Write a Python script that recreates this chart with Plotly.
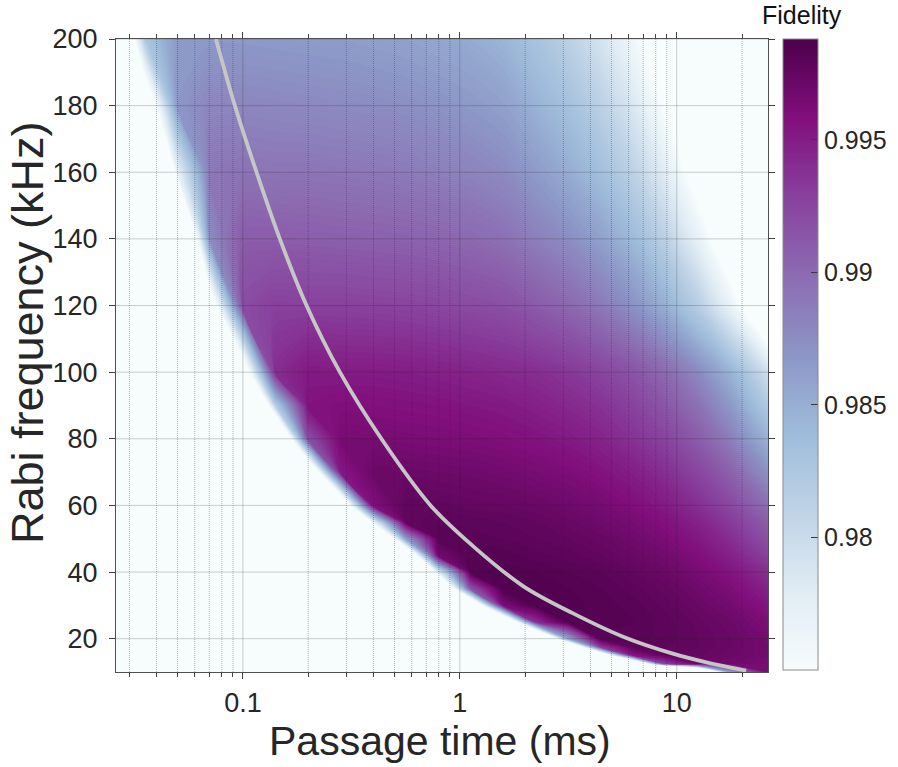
import plotly.graph_objects as go

# ---------------- data ----------------
passage_time_ms = [0.0251, 0.0355, 0.0501, 0.0708, 0.1, 0.1413, 0.1995, 0.2818,
                   0.3981, 0.5623, 0.7943, 1.122, 1.585, 2.239, 3.162, 4.467,
                   6.310, 8.913, 12.59, 17.78, 26.3]
rabi_khz = [10, 12.5, 15, 17.5, 20, 25, 30, 35, 40, 45, 50, 55, 60, 70, 80, 90,
            100, 120, 140, 160, 180, 200]

# fidelity rows (one per Rabi frequency, one value per passage time);
# values left of the visible edge are below the colour range (shown white)
fid_010 = [0.85, 0.85, 0.85, 0.85, 0.85, 0.85, 0.85, 0.85, 0.85, 0.85, 0.85, 0.85, 0.85, 0.85, 0.85, 0.854, 0.887, 0.920, 0.953, 0.986, 0.9962]
fid_012 = [0.85, 0.85, 0.85, 0.85, 0.85, 0.85, 0.85, 0.85, 0.85, 0.85, 0.85, 0.85, 0.85, 0.8606, 0.8936, 0.9266, 0.9596, 0.9926, 0.9970, 0.9968, 0.9964]
fid_015 = [0.85, 0.85, 0.85, 0.85, 0.85, 0.85, 0.85, 0.85, 0.85, 0.85, 0.85, 0.85, 0.874, 0.9043, 0.9346, 0.9649, 0.9952, 0.9976, 0.9974, 0.9971, 0.9966]
fid_017 = [0.85, 0.85, 0.85, 0.85, 0.85, 0.85, 0.85, 0.85, 0.85, 0.85, 0.85, 0.861, 0.894, 0.927, 0.960, 0.993, 0.9979, 0.9978, 0.9976, 0.9972, 0.9966]
fid_020 = [0.85, 0.85, 0.85, 0.85, 0.85, 0.85, 0.85, 0.85, 0.85, 0.85, 0.8536, 0.8866, 0.9196, 0.9526, 0.9856, 0.9981, 0.9981, 0.9979, 0.9976, 0.9972, 0.9965]
fid_025 = [0.85, 0.85, 0.85, 0.85, 0.85, 0.85, 0.85, 0.85, 0.85, 0.8617, 0.8947, 0.9277, 0.9607, 0.9937, 0.9985, 0.9983, 0.9982, 0.9979, 0.9975, 0.9970, 0.9961]
fid_030 = [0.85, 0.85, 0.85, 0.85, 0.85, 0.85, 0.85, 0.85, 0.8641, 0.8971, 0.9301, 0.9631, 0.9961, 0.9986, 0.9985, 0.9983, 0.9981, 0.9977, 0.9972, 0.9966, 0.9954]
fid_035 = [0.85, 0.85, 0.85, 0.85, 0.85, 0.85, 0.85, 0.8593, 0.8923, 0.9253, 0.9583, 0.9913, 0.9986, 0.9985, 0.9984, 0.9982, 0.9979, 0.9975, 0.9969, 0.9961, 0.9947]
fid_040 = [0.85, 0.85, 0.85, 0.85, 0.85, 0.85, 0.85, 0.8786, 0.9116, 0.9446, 0.9776, 0.9983, 0.9985, 0.9984, 0.9982, 0.9980, 0.9976, 0.9971, 0.9964, 0.9955, 0.9939]
fid_045 = [0.85, 0.85, 0.85, 0.85, 0.85, 0.85, 0.8646, 0.8976, 0.9306, 0.9636, 0.9966, 0.9984, 0.9983, 0.9981, 0.9979, 0.9976, 0.9972, 0.9967, 0.9959, 0.9947, 0.9928]
fid_050 = [0.85, 0.85, 0.85, 0.85, 0.85, 0.854, 0.887, 0.920, 0.953, 0.986, 0.9981, 0.9981, 0.9980, 0.9978, 0.9976, 0.9973, 0.9968, 0.9962, 0.9953, 0.9940, 0.9918]
fid_055 = [0.85, 0.85, 0.85, 0.85, 0.85, 0.8775, 0.9105, 0.9435, 0.9765, 0.9976, 0.9980, 0.9979, 0.9978, 0.9976, 0.9973, 0.9969, 0.9964, 0.9957, 0.9947, 0.9932, 0.9908]
fid_060 = [0.85, 0.85, 0.85, 0.85, 0.8746, 0.9049, 0.9352, 0.9655, 0.9958, 0.9977, 0.9977, 0.9975, 0.9974, 0.9972, 0.9969, 0.9965, 0.9959, 0.9951, 0.9939, 0.9923, 0.9896]
fid_070 = [0.85, 0.85, 0.85, 0.8752, 0.9052, 0.9352, 0.9652, 0.9952, 0.9971, 0.9971, 0.9970, 0.9969, 0.9967, 0.9964, 0.9961, 0.9956, 0.9949, 0.9939, 0.9925, 0.9905, 0.9872]
fid_080 = [0.85, 0.85, 0.8597, 0.8927, 0.9257, 0.9587, 0.9917, 0.9964, 0.9964, 0.9963, 0.9962, 0.9961, 0.9959, 0.9956, 0.9952, 0.9946, 0.9937, 0.9926, 0.9909, 0.9885, 0.9847]
fid_090 = [0.85, 0.85, 0.8826, 0.9156, 0.9486, 0.9816, 0.9956, 0.9959, 0.9958, 0.9957, 0.9956, 0.9954, 0.9952, 0.9948, 0.9943, 0.9937, 0.9927, 0.9913, 0.9894, 0.9866, 0.9822]
fid_100 = [0.8755, 0.8992, 0.9229, 0.9465, 0.9703, 0.9940, 0.9952, 0.9951, 0.9951, 0.9950, 0.9948, 0.9946, 0.9943, 0.9940, 0.9934, 0.9926, 0.9915, 0.9899, 0.9877, 0.9846, 0.9795]
fid_120 = [0.907, 0.9282, 0.9495, 0.9708, 0.9920, 0.9929, 0.9928, 0.9928, 0.9927, 0.9926, 0.9924, 0.9921, 0.9918, 0.9910, 0.9901, 0.9889, 0.9872, 0.9849, 0.9816, 0.9768, 0.9691]
fid_140 = [0.8931, 0.9246, 0.9561, 0.9876, 0.9909, 0.9909, 0.9908, 0.9907, 0.9906, 0.9905, 0.9903, 0.9900, 0.9895, 0.9885, 0.9875, 0.9861, 0.9840, 0.9812, 0.9771, 0.9713, 0.9619]
fid_160 = [0.9112, 0.9442, 0.9772, 0.9891, 0.9893, 0.9892, 0.9892, 0.9891, 0.9890, 0.9888, 0.9885, 0.9882, 0.9877, 0.9865, 0.9852, 0.9835, 0.9811, 0.9778, 0.9730, 0.9661, 0.9550]
fid_180 = [0.9514, 0.9691, 0.9868, 0.9880, 0.9880, 0.9879, 0.9878, 0.9877, 0.9876, 0.9874, 0.9871, 0.9867, 0.9861, 0.9847, 0.9833, 0.9813, 0.9785, 0.9745, 0.9689, 0.9611, 0.9481]
fid_200 = [0.9598, 0.9826, 0.9867, 0.9867, 0.9867, 0.9866, 0.9865, 0.9864, 0.9862, 0.9860, 0.9856, 0.9852, 0.9845, 0.9830, 0.9813, 0.9790, 0.9759, 0.9713, 0.9649, 0.9558, 0.9411]

# optimal-passage curve (grey line)
curve_time_ms = [0.0751, 0.0918, 0.1156, 0.148, 0.1965, 0.28, 0.435, 0.733, 1.15,
                 1.957, 3.33, 5.66, 9.6, 13.7, 20.9]
curve_rabi_khz = [200, 180, 160, 140, 120, 100, 80, 60, 47.8, 35.8, 27.6, 20.6,
                  15.5, 12.9, 10.4]

# axes / ticks
x_major = [0.1, 1, 10]
x_major_text = ["0.1", "1", "10"]
x_minor = [0.03, 0.04, 0.05, 0.06, 0.07, 0.08, 0.09, 0.2, 0.3, 0.4, 0.5, 0.6,
           0.7, 0.8, 0.9, 2, 3, 4, 5, 6, 7, 8, 9, 20]
y_major = [20, 40, 60, 80, 100, 120, 140, 160, 180, 200]
cbar_ticks = [0.98, 0.985, 0.99, 0.995]
cbar_text = ["0.98", "0.985", "0.99", "0.995"]
z_min, z_max = 0.975, 0.9988       # colour-bar range
level_step = 0.0002                 # fine filled levels -> smooth shading
x_lo, x_hi = 0.026, 26.35
y_lo, y_hi = 10, 200

fidelity = [fid_010, fid_012, fid_015, fid_017, fid_020, fid_025, fid_030,
            fid_035, fid_040, fid_045, fid_050, fid_055, fid_060, fid_070,
            fid_080, fid_090, fid_100, fid_120, fid_140, fid_160, fid_180,
            fid_200]

BUPU = ['rgb(247,252,253)', 'rgb(224,236,244)', 'rgb(191,211,230)',
        'rgb(158,188,218)', 'rgb(140,150,198)', 'rgb(140,107,177)',
        'rgb(136,65,157)', 'rgb(129,15,124)', 'rgb(77,0,75)']
bar_scale = [[i / (len(BUPU) - 1), c] for i, c in enumerate(BUPU)]

FONT = "Liberation Sans, Arial, Helvetica, sans-serif"
TXT = "#262626"

fig = go.Figure()

# filled map (many thin levels; library interpolates the sharp edge smoothly)
fig.add_trace(go.Contour(
    x=passage_time_ms, y=rabi_khz, z=fidelity,
    zmin=z_min, zmax=z_max, zauto=False,
    autocontour=False,
    contours=dict(coloring="fill", showlines=False,
                  start=z_min, end=z_max, size=level_step),
    line=dict(width=0, smoothing=0.7),
    colorscale=bar_scale, showscale=False,
    hoverinfo="skip",
))

# grid lines drawn over the map
gx, gy = [], []
for v in x_major:
    gx += [v, v, None]
    gy += [y_lo, y_hi, None]
for v in y_major:
    gx += [x_lo, x_hi, None]
    gy += [v, v, None]
fig.add_trace(go.Scatter(x=gx, y=gy, mode="lines", hoverinfo="skip",
                         showlegend=False,
                         line=dict(color="rgba(38,38,38,0.22)", width=1)))
mx, my = [], []
for v in x_minor:
    mx += [v, v, None]
    my += [y_lo, y_hi, None]
fig.add_trace(go.Scatter(x=mx, y=my, mode="lines", hoverinfo="skip",
                         showlegend=False,
                         line=dict(color="rgba(38,38,38,0.34)", width=1,
                                   dash="1px,1px")))

fig.add_trace(go.Scatter(x=curve_time_ms, y=curve_rabi_khz, mode="lines",
                         hoverinfo="skip", showlegend=False,
                         line=dict(color="#c6c6c6", width=3.8, shape="spline")))

# colour bar (invisible carrier marker on the curve's first point)
fig.add_trace(go.Scatter(
    x=curve_time_ms[:1], y=curve_rabi_khz[:1], mode="markers",
    hoverinfo="skip", showlegend=False,
    marker=dict(size=1, opacity=0, color=[z_max], cmin=z_min, cmax=z_max,
                colorscale=bar_scale, showscale=True,
                colorbar=dict(
                    thickness=35, thicknessmode="pixels",
                    len=0.997, lenmode="fraction",
                    x=1.0225, xanchor="left", xpad=0,
                    y=1.0, yanchor="top", ypad=0,
                    outlinecolor="#8a8a8a", outlinewidth=1,
                    tickmode="array", tickvals=cbar_ticks, ticktext=cbar_text,
                    ticks="inside", ticklen=7, tickwidth=1, tickcolor="#3a3a3a",
                    tickfont=dict(family=FONT, size=25, color=TXT),
                )),
))

fig.update_xaxes(
    type="log", range=[-1.585, 1.4207],
    tickmode="array", tickvals=x_major, ticktext=x_major_text,
    ticks="outside", ticklen=6, tickwidth=1, tickcolor="#404040",
    minor=dict(tickmode="array", tickvals=x_minor, ticks="outside",
               ticklen=4, tickwidth=1, tickcolor="#404040", showgrid=False),
    showgrid=False, zeroline=False,
    showline=True, linecolor="#505050", linewidth=1, mirror="ticks",
    tickfont=dict(family=FONT, size=27, color=TXT),
    ticklabelstandoff=1,
)
fig.update_yaxes(
    range=[y_lo, y_hi],
    tickmode="array", tickvals=y_major,
    ticks="outside", ticklen=6, tickwidth=1, tickcolor="#404040",
    showgrid=False, zeroline=False,
    showline=True, linecolor="#505050", linewidth=1, mirror="ticks",
    tickfont=dict(family=FONT, size=27, color=TXT),
    ticklabelstandoff=6,
)

fig.update_layout(
    width=898, height=767,
    margin=dict(l=116, r=130, t=39, b=95, pad=0, autoexpand=False),
    paper_bgcolor="white", plot_bgcolor=BUPU[0],
    showlegend=False,
    annotations=[
        dict(text="Passage time (ms)", xref="paper", yref="paper",
             x=0.497, y=-0.109, xanchor="center", yanchor="middle",
             showarrow=False, font=dict(family=FONT, size=41, color=TXT)),
        dict(text="Rabi frequency (kHz)", xref="paper", yref="paper",
             x=-0.1364, y=0.5355, xanchor="center", yanchor="middle",
             textangle=-90, showarrow=False,
             font=dict(family=FONT, size=45, color=TXT)),
        dict(text="Fidelity", xref="paper", yref="paper",
             x=1.052, y=1.038, xanchor="center", yanchor="middle",
             showarrow=False, font=dict(family=FONT, size=25, color="#111111")),
    ],
)

fig.write_html("out.html")
